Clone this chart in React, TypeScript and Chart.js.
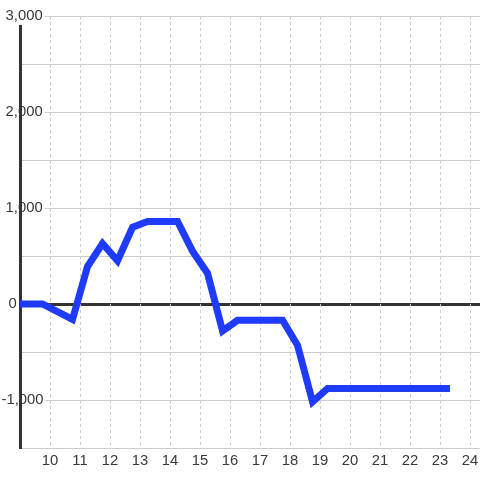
import React, { useEffect, useRef } from 'react';
import { Chart, registerables } from 'chart.js';

Chart.register(...registerables);

// Hour of day (x) and value (y) at each corner of the line
const hours = [8.75, 9.75, 10.75, 11.25, 11.75, 12.25, 12.75, 13.25, 14.25, 14.75, 15.25, 15.75, 16.25, 17.75, 18.25, 18.75, 19.25, 23.33];
const values = [0, 0, -160, 390, 630, 450, 800, 860, 860, 550, 320, -280, -170, -170, -430, -1020, -880, -880];

const xTicks = [10, 11, 12, 13, 14, 15, 16, 17, 18, 19, 20, 21, 22, 23, 24];
const yTicks = [-1500, -1000, -500, 0, 500, 1000, 1500, 2000, 2500, 3000];
const yTickLabels = ['', '-1,000', '', '0', '', '1,000', '', '2,000', '', '3,000'];

const FONT = { family: '"Liberation Sans", Arial, sans-serif', size: 14.8 };

export default function App() {
  const ref = useRef<HTMLCanvasElement | null>(null);

  useEffect(() => {
    const canvas = ref.current;
    if (!canvas) return;
    const labelFor = (v: number) => {
      const i = yTicks.indexOf(v);
      return i >= 0 ? yTickLabels[i] : '';
    };
    // emulate right-aligned labels (labels are drawn mirrored, left-aligned)
    const padLabel = (t: string) => {
      if (!t) return t;
      if (t === '0') return ' \u2009' + t;
      if (t.startsWith('-')) return t;
      return ' ' + t;
    };
    const topTick = yTicks[yTicks.length - 1];
    const chart = new Chart(canvas, {
      type: 'line',
      data: {
        datasets: [
          {
            data: hours.map((h, i) => ({ x: h, y: values[i] })),
            borderColor: '#1f3bff',
            borderWidth: 7,
            pointRadius: 0,
            pointHoverRadius: 0,
            tension: 0,
            fill: false,
            borderJoinStyle: 'miter',
            borderCapStyle: 'butt',
          },
        ],
      },
      options: {
        animation: false,
        responsive: false,
        devicePixelRatio: 1,
        events: [],
        layout: { padding: { top: 16, left: 0, right: 0, bottom: 0 } },
        plugins: { legend: { display: false }, tooltip: { enabled: false }, title: { display: false } },
        scales: {
          y: {
            type: 'linear',
            position: 'left',
            min: -1500,
            max: 3000,
            afterBuildTicks: (s: any) => {
              s.ticks = yTicks.map((v) => ({ value: v }));
            },
            afterFit: (s: any) => {
              s.width = 20;
            },
            grid: {
              color: (c: any) => (c.tick && c.tick.value === 0 ? '#333333' : '#cccccc'),
              lineWidth: (c: any) => (c.tick && c.tick.value === 0 ? 3 : 1),
              drawTicks: false,
            },
            border: { display: true, color: '#333333', width: 3 },
            ticks: {
              mirror: true,
              padding: -18.5,
              color: '#383838',
              font: FONT,
              autoSkip: false,
              showLabelBackdrop: (c: any) => !!(c.tick && labelFor(c.tick.value) && c.tick.value !== 0),
              backdropColor: '#ffffff',
              backdropPadding: {
                top: 0,
                bottom: 0,
                right: 2,
                left: (c: any) => (c.tick && c.tick.value === topTick ? 0 : -20.5),
              },
              callback: (v: any) => padLabel(labelFor(Number(v))),
            },
          },
          x: {
            type: 'linear',
            position: 'bottom',
            min: 9,
            max: 24.33,
            afterBuildTicks: (s: any) => {
              s.ticks = xTicks.map((v) => ({ value: v }));
            },
            afterFit: (s: any) => {
              s.height = 32;
              s.paddingLeft = 0;
              s.paddingRight = 0;
            },
            grid: { color: '#cccccc', lineWidth: 1, drawTicks: false },
            border: { display: false, dash: [3, 3] },
            ticks: {
              padding: 4,
              color: '#383838',
              font: FONT,
              autoSkip: false,
              maxRotation: 0,
              callback: (v: any) => String(v),
            },
          },
        },
      },
    });
    return () => chart.destroy();
  }, []);

  return (
    <div style={{ position: 'fixed', left: 0, top: 0, width: 480, height: 480, background: '#ffffff' }}>
      <canvas ref={ref} width={480} height={480} style={{ display: 'block', width: 480, height: 480 }} />
    </div>
  );
}
